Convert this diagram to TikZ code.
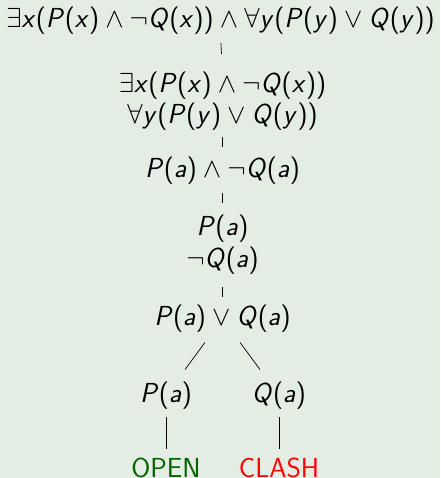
\RequirePackage{fix-cm}
\documentclass[tikz,border=0pt]{standalone}
\DeclareSymbolFont{sfletters}{OT1}{cmss}{m}{sl}
\DeclareSymbolFont{sfupright}{OT1}{cmss}{m}{n}
\DeclareMathSymbol{a}{\mathalpha}{sfletters}{`a}
\DeclareMathSymbol{x}{\mathalpha}{sfletters}{`x}
\DeclareMathSymbol{y}{\mathalpha}{sfletters}{`y}
\DeclareMathSymbol{P}{\mathalpha}{sfletters}{`P}
\DeclareMathSymbol{Q}{\mathalpha}{sfletters}{`Q}
\DeclareMathSymbol{(}{\mathopen}{sfupright}{`(}
\DeclareMathSymbol{)}{\mathclose}{sfupright}{`)}
\definecolor{bg}{RGB}{228,237,228}
\definecolor{opengreen}{RGB}{0,100,0}
\begin{document}
\begin{tikzpicture}[x=1pt,y=-1pt,
  form/.style={font=\fontsize{27.5}{33}\selectfont, inner sep=0pt,
    text height=20pt, text depth=7pt, anchor=base},
  word/.style={form, font=\fontsize{27.5}{33}\selectfont\sffamily, text depth=0pt},
  link/.style={draw=black, line width=0.7pt}]
\fill[bg] (0,0) rectangle (440,478);
\useasboundingbox (0,0) rectangle (440,478);
\node[form] (n1) at (220.5,28) {$\exists x(P(x)\land\neg Q(x))\land\forall y(P(y)\lor Q(y))$};
\node[form] (n2a) at (222.5,93) {$\exists x(P(x)\land\neg Q(x))$};
\node[form] (n2b) at (222.5,124) {$\forall y(P(y)\lor Q(y))$};
\node[form] (n3) at (222.5,178) {$P(a)\land\neg Q(a)$};
\node[form] (n4a) at (222.5,235) {$P(a)$};
\node[form] (n4b) at (222.5,267) {$\neg Q(a)$};
\node[form] (n5) at (222.5,325) {$P(a)\lor Q(a)$};
\node[form] (n6l) at (166,402) {$P(a)$};
\node[form] (n6r) at (279,402) {$Q(a)$};
\node[word, text=opengreen] (open) at (166,477) {OPEN};
\node[word, text=red] (clash) at (279,477) {CLASH};
\draw[link, shorten <=8pt, shorten >=19pt] (n1.south) -- (n2a.north);
\draw[link, shorten <=6pt, shorten >=11pt] (n2b.south) -- (n3.north);
\draw[link, shorten <=8pt, shorten >=12pt] (n3.south) -- (n4a.north);
\draw[link, shorten <=13pt, shorten >=8pt] (n4b.south) -- (n5.north);
\draw[link, shorten <=12.8pt, shorten >=15.2pt] (n5) -- (n6l);
\draw[link, shorten <=12.8pt, shorten >=15.2pt] (n5) -- (n6r);
\draw[link, shorten <=8pt, shorten >=8pt] (n6l.south) -- (open.north);
\draw[link, shorten <=8pt, shorten >=8pt] (n6r.south) -- (clash.north);
\end{tikzpicture}
\end{document}
